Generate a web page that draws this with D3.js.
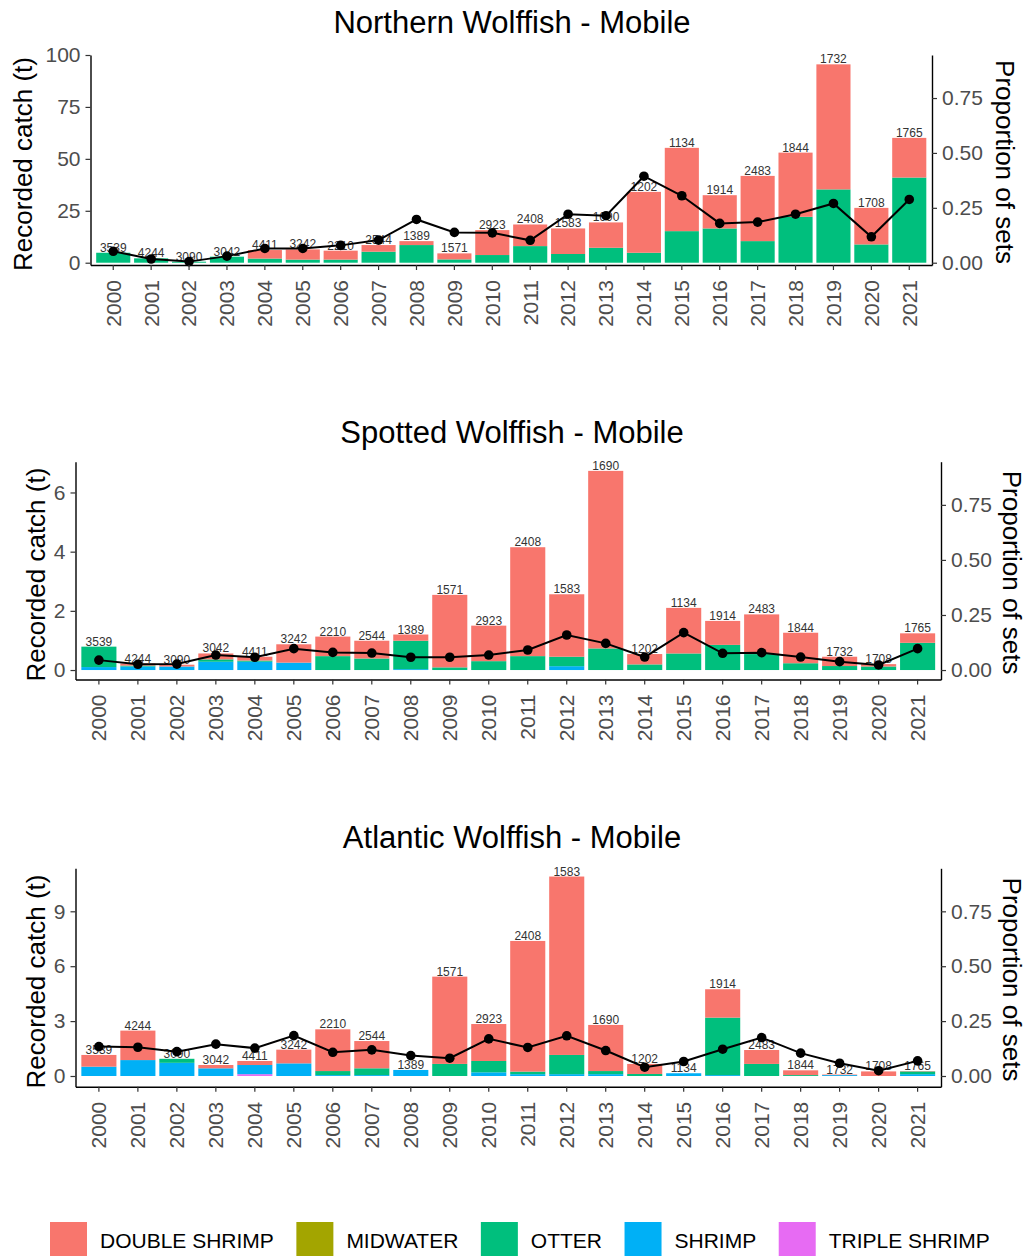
<!DOCTYPE html>
<html>
<head>
<meta charset="utf-8">
<script src="https://cdn.jsdelivr.net/npm/d3@7"></script>
<style>
  html, body { margin: 0; padding: 0; background: #fff; }
  svg { display: block; font-family: "Liberation Sans", Arial, sans-serif; }
</style>
</head>
<body>
<svg id="chart" width="1026" height="1256"></svg>
<script>
// ---- data ----
const years = ["2000","2001","2002","2003","2004","2005","2006","2007","2008","2009","2010",
               "2011","2012","2013","2014","2015","2016","2017","2018","2019","2020","2021"];
// number of sets observed per year
const setCounts = [3539,4244,3090,3042,4411,3242,2210,2544,1389,1571,2923,
                   2408,1583,1690,1202,1134,1914,2483,1844,1732,1708,1765];

const gears = ["DOUBLE SHRIMP","MIDWATER","OTTER","SHRIMP","TRIPLE SHRIMP"];
const gearColors = ["#F8766D","#A3A500","#00BF7D","#00B0F6","#E76BF3"];

// Northern wolffish catch (t) by gear, and proportion of sets
const northernDouble = [0,0,0,0,4.1,4.9,4.3,3.2,1.9,2.9,12.0,10.4,12.3,12.2,29.3,40.1,16.0,31.4,30.9,60.2,17.6,19.1];
const northernMidwater = [0,0,0,0,0,0,0,0,0,0,0,0,0,0,0,0,0,0,0,0,0,0];
const northernOtter = [4.8,2.1,0.5,2.9,2.0,1.5,1.5,5.3,8.5,1.6,3.7,8.0,4.2,7.2,4.8,15.2,16.5,10.4,22.1,35.3,8.8,41.0];
const northernShrimp = [0,0,0,0,0,0,0,0,0,0,0,0,0,0,0,0,0,0,0,0,0,0];
const northernTriple = [0,0,0,0,0,0,0,0,0,0,0,0,0,0,0,0,0,0,0,0,0,0];
const northernProp = [0.052,0.017,0.005,0.030,0.065,0.065,0.079,0.103,0.197,0.138,0.136,
                      0.102,0.221,0.214,0.394,0.305,0.179,0.185,0.221,0.270,0.118,0.288];

// Spotted wolffish
const spottedDouble = [0,0.07,0.06,0.20,0.13,0.62,0.66,0.60,0.21,2.45,1.20,3.68,2.11,6.00,0.35,1.54,0.81,1.34,1.03,0.315,0.08,0.32];
const spottedMidwater = [0,0,0,0,0,0,0,0,0,0,0,0,0,0,0,0,0,0,0,0,0,0];
const spottedOtter = [0.69,0.03,0,0.08,0.04,0,0.47,0.39,0.96,0.09,0.30,0.47,0.32,0.73,0.19,0.56,0.85,0.54,0.23,0.135,0.12,0.92];
const spottedShrimp = [0.10,0.12,0.12,0.28,0.28,0.25,0,0,0.03,0,0,0,0.13,0,0,0,0,0,0,0,0,0];
const spottedTriple = [0,0,0,0,0,0,0,0,0,0,0,0,0,0,0,0,0,0,0,0,0,0];
const spottedProp = [0.045,0.026,0.027,0.068,0.058,0.097,0.080,0.077,0.058,0.058,0.068,
                     0.091,0.159,0.121,0.059,0.170,0.076,0.079,0.059,0.038,0.023,0.097];

// Atlantic wolffish
const atlanticDouble = [0.64,1.61,0,0.18,0.22,0.75,2.28,1.49,0,4.77,2.02,7.14,9.75,2.52,0.55,0,1.55,0.76,0.26,0.03,0.25,0.02];
const atlanticMidwater = [0,0,0,0,0,0,0,0,0,0,0,0,0,0,0,0,0,0,0,0,0,0];
const atlanticOtter = [0,0,0.22,0,0,0,0.22,0.37,0,0.66,0.62,0.14,1.05,0.17,0.11,0,3.14,0.66,0.05,0,0,0.15];
const atlanticShrimp = [0.51,0.87,0.72,0.42,0.50,0.69,0.05,0.05,0.33,0,0.20,0.10,0.10,0.10,0,0.15,0.05,0,0,0.05,0,0.10];
const atlanticTriple = [0,0,0,0,0.10,0,0,0,0,0,0,0,0,0,0,0,0,0,0,0,0,0];
const atlanticProp = [0.134,0.131,0.111,0.145,0.127,0.184,0.108,0.119,0.093,0.081,0.169,
                      0.130,0.183,0.116,0.040,0.066,0.122,0.175,0.104,0.058,0.024,0.069];

const northernTicks = [0,25,50,75,100];
const spottedTicks = [0,2,4,6];
const atlanticTicks = [0,3,6,9];
const propTicks = [0,0.25,0.5,0.75];

// ---- layout ----
const panels = [
  { title: "Northern Wolffish - Mobile", series: [northernDouble, northernMidwater, northernOtter, northernShrimp, northernTriple],
    prop: northernProp, ticks: northernTicks, yMax: 100, yMin: -1.1,
    left: 90.5, right: 932, top: 55, bottom: 265, titleY: 22, yTitleX: 23, rTitleX: 1005 },
  { title: "Spotted Wolffish - Mobile", series: [spottedDouble, spottedMidwater, spottedOtter, spottedShrimp, spottedTriple],
    prop: spottedProp, ticks: spottedTicks, yMax: 7.04, yMin: -0.32,
    left: 75.5, right: 941, top: 461.7, bottom: 679.5, titleY: 432, yTitleX: 36, rTitleX: 1012 },
  { title: "Atlantic Wolffish - Mobile", series: [atlanticDouble, atlanticMidwater, atlanticOtter, atlanticShrimp, atlanticTriple],
    prop: atlanticProp, ticks: atlanticTicks, yMax: 11.35, yMin: -0.585,
    left: 75.5, right: 941, top: 868.3, bottom: 1086.7, titleY: 837, yTitleX: 36, rTitleX: 1012 }
];
const propTop = 0.946;

const svg = d3.select("#chart");
const color = d3.scaleOrdinal().domain(gears).range(gearColors);
// ggplot stacks the first level on top, so stack keys go bottom-up in reverse
const stackKeys = gears.slice().reverse();

const tickFont = 21;

panels.forEach(p => {
  const g = svg.append("g");
  const rows = years.map((yr, i) => {
    const r = { year: yr, sets: setCounts[i], prop: p.prop[i] };
    gears.forEach((k, j) => r[k] = p.series[j][i]);
    r.total = d3.sum(gears, k => r[k]);
    return r;
  });

  const x = d3.scaleBand().domain(years).range([p.left, p.right])
    .paddingInner(0.1).paddingOuter(0.15);
  const y = d3.scaleLinear().domain([p.yMin, p.yMax]).range([p.bottom, p.top]);
  const y2 = d3.scaleLinear().domain([p.yMin / p.yMax * propTop, propTop]).range([p.bottom, p.top]);

  const stacked = d3.stack().keys(stackKeys)(rows);

  // stacked bars
  g.append("g").selectAll("g").data(stacked).join("g")
    .attr("fill", d => color(d.key))
    .selectAll("rect").data(d => d.filter(s => s[1] - s[0] > 0)).join("rect")
    .attr("x", d => x(d.data.year))
    .attr("width", x.bandwidth())
    .attr("y", d => y(d[1]))
    .attr("height", d => y(d[0]) - y(d[1]));

  // set counts above bars
  g.append("g").selectAll("text").data(rows).join("text")
    .attr("x", d => x(d.year) + x.bandwidth() / 2)
    .attr("y", d => y(d.total) - 1)
    .attr("text-anchor", "middle")
    .attr("font-size", 12)
    .attr("fill", "#333")
    .text(d => d.sets);

  // proportion of sets line
  const line = d3.line()
    .x(d => x(d.year) + x.bandwidth() / 2)
    .y(d => y2(d.prop));
  g.append("path").datum(rows)
    .attr("d", line).attr("fill", "none")
    .attr("stroke", "#000").attr("stroke-width", 2);
  g.append("g").selectAll("circle").data(rows).join("circle")
    .attr("cx", d => x(d.year) + x.bandwidth() / 2)
    .attr("cy", d => y2(d.prop))
    .attr("r", 4.8).attr("fill", "#000");

  // axes
  const styleAxis = sel => {
    sel.select(".domain").attr("stroke", "#000").attr("stroke-width", 1.4);
    sel.selectAll(".tick line").attr("stroke", "#333").attr("stroke-width", 1.2);
    sel.selectAll(".tick text").attr("fill", "#4D4D4D").attr("font-size", tickFont)
      .attr("font-family", "Liberation Sans, Arial, sans-serif");
  };

  const ax = g.append("g").attr("transform", `translate(0,${p.bottom})`)
    .call(d3.axisBottom(x).tickSize(5).tickSizeOuter(0));
  styleAxis(ax);
  ax.selectAll(".tick text")
    .attr("transform", "rotate(-90)")
    .attr("x", -15).attr("y", 0).attr("dy", "0.35em")
    .style("text-anchor", "end");

  const ayl = g.append("g").attr("transform", `translate(${p.left},0)`)
    .call(d3.axisLeft(y).tickValues(p.ticks).tickSize(5).tickSizeOuter(0).tickPadding(5));
  styleAxis(ayl);

  const ayr = g.append("g").attr("transform", `translate(${p.right},0)`)
    .call(d3.axisRight(y2).tickValues(propTicks).tickFormat(d3.format(".2f"))
      .tickSize(5).tickSizeOuter(0).tickPadding(5));
  styleAxis(ayr);

  // titles
  g.append("text").attr("x", 512).attr("y", p.titleY).attr("dy", "0.35em")
    .attr("text-anchor", "middle").attr("font-size", 31).attr("fill", "#000")
    .text(p.title);
  const midY = (p.top + p.bottom) / 2;
  g.append("text").attr("transform", `translate(${p.yTitleX},${midY + 4}) rotate(-90)`)
    .attr("dy", "0.35em").attr("text-anchor", "middle").attr("font-size", 26).attr("fill", "#000")
    .text("Recorded catch (t)");
  g.append("text").attr("transform", `translate(${p.rTitleX},${midY + 2}) rotate(90)`)
    .attr("dy", "0.35em").attr("text-anchor", "middle").attr("font-size", 26).attr("fill", "#000")
    .text("Proportion of sets");
});

// legend
const legend = svg.append("g").attr("transform", "translate(50,1222)");
let lx = 0;
gears.forEach((k, i) => {
  const item = legend.append("g").attr("transform", `translate(${lx},0)`);
  item.append("rect").attr("width", 37).attr("height", 37).attr("fill", color(k));
  const t = item.append("text").attr("x", 50).attr("y", 18.5).attr("dy", "0.35em")
    .attr("font-size", 21).attr("fill", "#000").text(k);
  lx += 50 + t.node().getComputedTextLength() + 22.5;
});
</script>
</body>
</html>
